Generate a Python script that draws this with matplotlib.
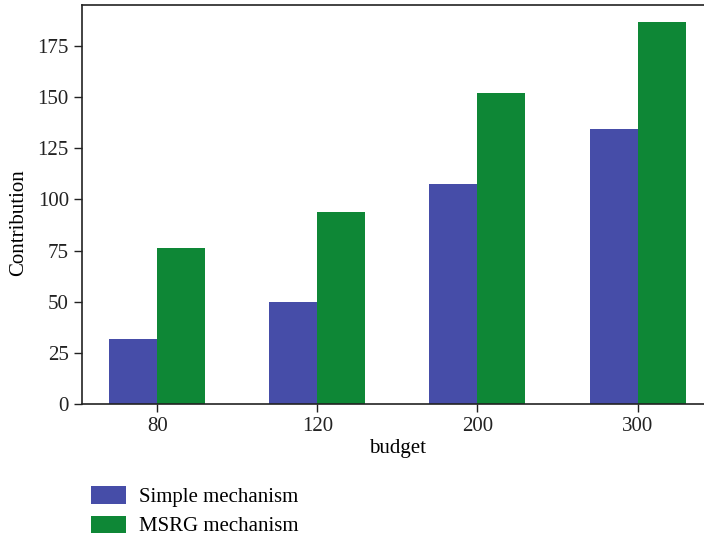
import numpy as np
import matplotlib
matplotlib.use("Agg")
import matplotlib.pyplot as plt

plt.rcParams['font.family'] = ['Liberation Serif', 'DejaVu Serif']

budgets = ["80", "120", "200", "300"]
simple_vals = [32, 50, 107.5, 134.5]
msrg_vals = [76, 94, 152, 186.5]

fig = plt.figure(figsize=(7.04, 5.42), dpi=100)
ax = fig.add_axes([0.1165, 0.2546, 0.896, 0.7362])

x = np.arange(len(budgets))
w = 0.3
b1 = ax.bar(x - w/2, simple_vals, w, color="#464DA8", label="Simple mechanism")
b2 = ax.bar(x + w/2, msrg_vals, w, color="#0E8736", label="MSRG mechanism")

ax.set_xlim(-0.47, 3.47)
ax.set_ylim(0, 195)
ax.set_yticks(np.arange(0, 176, 25))
ax.set_xticks(x)
ax.set_xticklabels(budgets)
ax.tick_params(labelsize=15, length=6, width=1, direction="out", colors="#222222")
ax.set_xlabel("budget", fontsize=15, labelpad=2)
ax.set_ylabel("Contribution", fontsize=15)
ax.yaxis.set_label_coords(-0.086, 0.455)
for s in ax.spines.values():
    s.set_linewidth(1.2)
    s.set_color("#222222")

fig.legend(handles=[b1, b2], loc="lower left", bbox_to_anchor=(0.117, -0.005),
           borderaxespad=0, frameon=False, fontsize=15, handlelength=1.7,
           handleheight=0.9, handletextpad=0.62, labelspacing=0.4)

fig.savefig("out.png", dpi=100)
